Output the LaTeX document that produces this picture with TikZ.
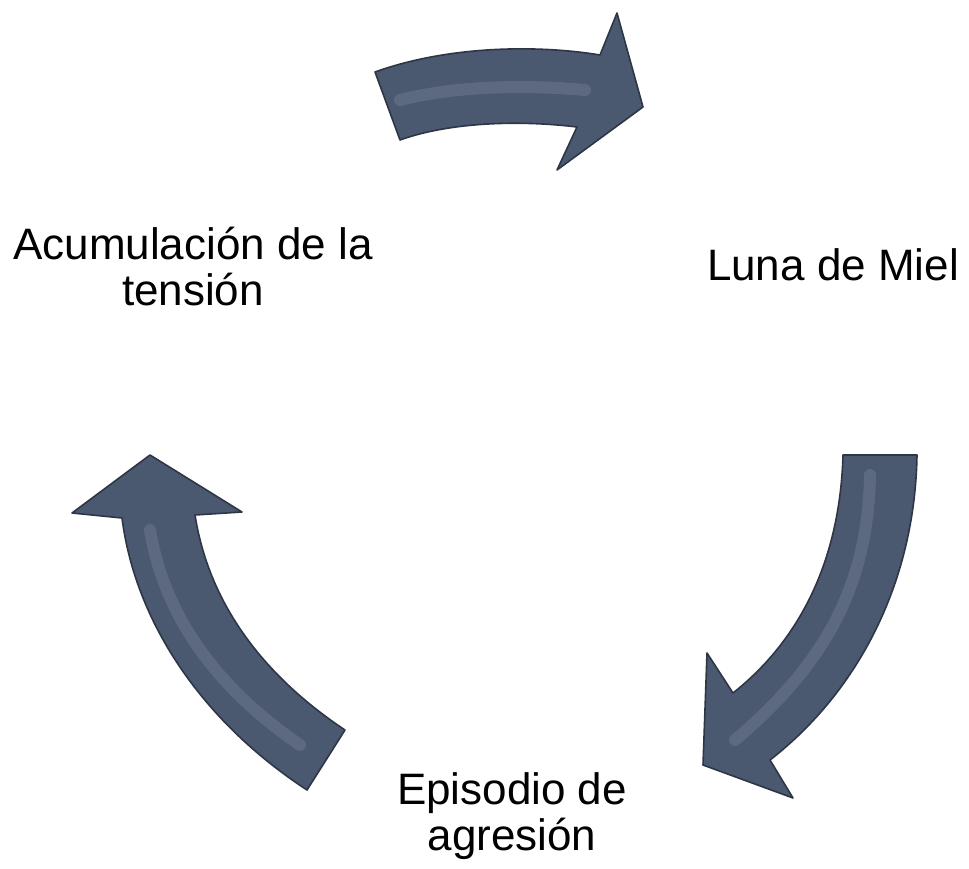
\documentclass[tikz,border=0pt]{standalone}
\usepackage{fontspec}
\setmainfont{Liberation Sans}
\usepackage{tikz}

\definecolor{arrowfill}{RGB}{74,88,112}
\definecolor{arrowedge}{RGB}{46,54,70}

\begin{document}
\begin{tikzpicture}[x=0.5pt,y=-0.5pt,
	phase/.style={align=center, inner sep=0pt, font=\fontsize{22}{23}\selectfont},
	bigarrow/.style={fill=arrowfill, draw=arrowedge, line width=0.8pt, line join=round},
	gloss/.style={draw=white, opacity=0.1, line width=6pt, line cap=round}]
	\useasboundingbox (0,0) rectangle (969,868);

	% phases of the cycle
	\node[phase, anchor=base] (tension) at (193,305) {Acumulación de la\\tensión};
	\node[phase, anchor=base] (miel)    at (833,280) {Luna de Miel};
	\node[phase, anchor=base] (agresion) at (512,850) {Episodio de\\agresión};

	% tension -> luna de miel
	\draw[bigarrow] (375,72) .. controls (450,45) and (540,45) .. (600,55)
		-- (617,13) -- (643,107) -- (557,170) -- (577,127)
		.. controls (520,120) and (450,122) .. (400,140) -- cycle;
	\draw[gloss] (400,100) .. controls (460,85) and (530,85) .. (585,90);

	% luna de miel -> agresion
	\draw[bigarrow] (843,455) -- (917,455)
		.. controls (915,580) and (860,690) .. (770,760)
		-- (793,798) -- (703,765) -- (707,653) -- (733,693)
		.. controls (800,640) and (840,560) .. (843,455) -- cycle;
	\draw[gloss] (870,475) .. controls (868,580) and (830,660) .. (735,740);

	% agresion -> tension
	\draw[bigarrow] (307,790) .. controls (200,720) and (135,620) .. (122,518)
		-- (72,513) -- (150,455) -- (242,512) -- (195,515)
		.. controls (210,610) and (270,680) .. (345,730) -- cycle;
	\draw[gloss] (150,530) .. controls (165,620) and (220,690) .. (300,745);

\end{tikzpicture}
\end{document}
